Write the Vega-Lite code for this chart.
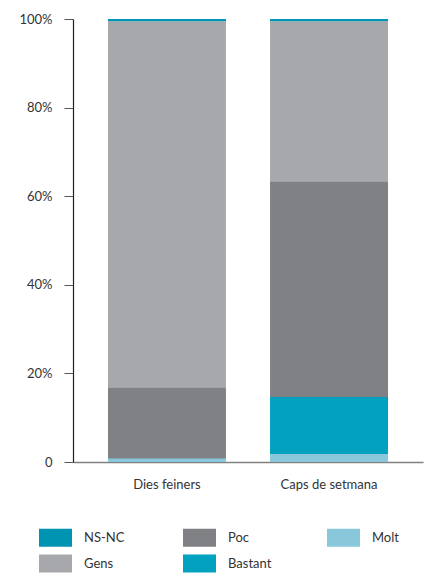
{
  "$schema": "https://vega.github.io/schema/vega-lite/v6.json",
  "autosize": {"type": "none"},
  "padding": {"left": 73, "top": 19, "right": 4, "bottom": 112},
  "width": 350,
  "height": 443,
  "background": "white",
  "config": {
    "view": {"stroke": null},
    "font": "Lato",
    "axis": {"labelFont": "Lato", "labelColor": "#333333", "labelFontSize": 13, "grid": false, "title": null}
  },
  "data": {
    "values": [
      {"periode": "Dies feiners", "resposta": "Molt", "pos": 1, "valor": 0.7},
      {"periode": "Dies feiners", "resposta": "Bastant", "pos": 2, "valor": 0.1},
      {"periode": "Dies feiners", "resposta": "Poc", "pos": 3, "valor": 16.1},
      {"periode": "Dies feiners", "resposta": "Gens", "pos": 4, "valor": 82.6},
      {"periode": "Dies feiners", "resposta": "NS-NC", "pos": 5, "valor": 0.5},
      {"periode": "Caps de setmana", "resposta": "Molt", "pos": 1, "valor": 1.8},
      {"periode": "Caps de setmana", "resposta": "Bastant", "pos": 2, "valor": 12.9},
      {"periode": "Caps de setmana", "resposta": "Poc", "pos": 3, "valor": 48.7},
      {"periode": "Caps de setmana", "resposta": "Gens", "pos": 4, "valor": 36.1},
      {"periode": "Caps de setmana", "resposta": "NS-NC", "pos": 5, "valor": 0.5}
    ]
  },
  "mark": {"type": "bar"},
  "encoding": {
    "x": {
      "field": "periode",
      "type": "nominal",
      "sort": ["Dies feiners", "Caps de setmana"],
      "scale": {"paddingInner": 0.272, "paddingOuter": 0.216},
      "axis": {
        "labelAngle": 0,
        "ticks": false,
        "labelPadding": 16,
        "domainColor": "#808080",
        "domainWidth": 1.5
      }
    },
    "y": {
      "field": "valor",
      "type": "quantitative",
      "stack": "normalize",
      "scale": {"domain": [0, 1]},
      "axis": {
        "values": [0, 0.2, 0.4, 0.6, 0.8, 1],
        "labelExpr": "datum.value == 0 ? '0' : format(datum.value, '.0%')",
        "domainColor": "#231f20",
        "domainWidth": 1.2,
        "tickColor": "#555555",
        "tickSize": 9,
        "labelPadding": 12
      }
    },
    "order": {"field": "pos", "type": "quantitative"},
    "color": {
      "field": "resposta",
      "type": "nominal",
      "scale": {
        "domain": ["NS-NC", "Gens", "Poc", "Bastant", "Molt"],
        "range": ["#0094b3", "#a7a8ab", "#808184", "#00a2bf", "#88c8da"]
      },
      "legend": {
        "title": null,
        "orient": "none",
        "legendX": -34,
        "legendY": 502,
        "columns": 3,
        "gridAlign": "all",
        "columnPadding": 55,
        "rowPadding": -1,
        "symbolType": "M-1,-0.545H1V0.545H-1Z",
        "symbolSize": 1089,
        "symbolStrokeWidth": 0,
        "labelFontSize": 13,
        "labelColor": "#333333",
        "labelOffset": 12
      }
    }
  }
}
